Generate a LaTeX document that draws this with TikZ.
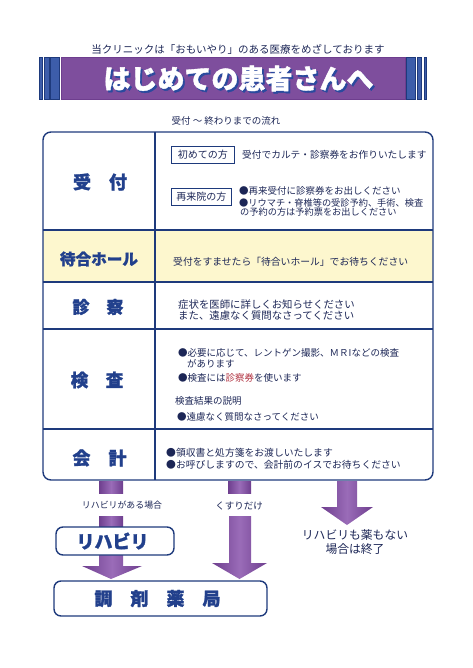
\documentclass[tikz,border=0pt]{standalone}
\usepackage{fontspec}
\setmainfont{Noto Sans CJK JP}
\newfontfamily\heavyfont[FakeBold=1.4]{Noto Sans CJK JP}
\definecolor{navy}{HTML}{1E3A7C}
\definecolor{lblue}{HTML}{22408C}
\definecolor{txt}{HTML}{1C2656}
\definecolor{purp}{HTML}{7E4E9D}
\definecolor{purpL}{HTML}{9A6CB8}
\definecolor{purpD}{HTML}{6E3E8E}
\definecolor{yel}{HTML}{FDF7CE}
\definecolor{stripeblue}{HTML}{3D5DAA}
\definecolor{shadowblue}{HTML}{2A4A9E}
\definecolor{redtxt}{HTML}{B0303F}
\tikzset{
  body/.style={font=\fontsize{9.8}{11}\selectfont, text=txt, inner sep=0pt, anchor=west},
  rowlabel/.style={font=\heavyfont\bfseries\fontsize{18}{18}\selectfont, text=lblue, inner sep=0pt},
  tagbox/.style={draw=navy, line width=0.8pt, font=\fontsize{10}{10}\selectfont, text=txt, anchor=west, inner xsep=5pt, inner ysep=0pt, minimum height=17pt},
  rbox/.style={draw=navy, line width=1.4pt, rounded corners=7pt, fill=white, inner sep=0pt},
  arrowfill/.style={left color=purpD, right color=purpD, middle color=purpL},
  stripebar/.style={fill=stripeblue, draw=navy, line width=0.5pt},
  tline/.style={draw=navy, line width=1.4pt},
}
\begin{document}
\begin{tikzpicture}[x=1pt,y=-1pt]
\useasboundingbox (0,0) rectangle (472,668);
% header
\node[font=\fontsize{10.5}{12}\selectfont, text=txt, inner sep=0pt] (sub) at (238,49) {当クリニックは「おもいやり」のある医療をめざしております};
\fill[purp, draw=purpD, line width=0.5pt] (61,57) rectangle (405,99);
\draw[stripebar] (39,57) rectangle (42.3,99);
\draw[stripebar] (44,57) rectangle (49,99);
\draw[stripebar] (50.7,57) rectangle (59.3,99);
\draw[stripebar] (406.7,57) rectangle (415,99);
\draw[stripebar] (417.3,57) rectangle (421.7,99);
\draw[stripebar] (424,57) rectangle (426.7,99);
\node[font=\heavyfont\bfseries\fontsize{27}{27}\selectfont, text=white, inner sep=0pt] (title) at (238.5,79.5) {\rlap{\hspace{1.8pt}\raisebox{-2pt}{\color{shadowblue}はじめての患者さんへ}}はじめての患者さんへ};
\node[font=\fontsize{9.5}{11}\selectfont, text=txt, inner sep=0pt] (flow) at (226,121) {受付 ～ 終わりまでの流れ};
% table
\fill[yel] (43,230) rectangle (433,282);
\draw[tline, rounded corners=8pt] (43,132) rectangle (433,480);
\draw[tline] (155,132) -- (155,480);
\draw[tline] (43,230) -- (433,230);
\draw[tline] (43,282) -- (433,282);
\draw[tline] (43,329) -- (433,329);
\draw[tline] (43,429) -- (433,429);
% row labels
\node[rowlabel] (l1) at (100,182) {受　付};
\node[rowlabel, font=\heavyfont\bfseries\fontsize{15.6}{16}\selectfont] (l2) at (99,259) {待合ホール};
\node[rowlabel, font=\heavyfont\bfseries\fontsize{17}{17}\selectfont] (l3) at (98,307) {診　察};
\node[rowlabel, font=\heavyfont\bfseries\fontsize{17.5}{17}\selectfont] (l4) at (97,380) {検　査};
\node[rowlabel] (l5) at (99.5,458) {会　計};
% row 1
\node[tagbox, minimum width=63pt] (first) at (171,155) {初めての方};
\node[body, font=\fontsize{9.7}{11}\selectfont] (t1) at (242,155) {受付でカルテ・診察券をお作りいたします};
\node[tagbox, minimum width=57pt] (again) at (171,196.5) {再来院の方};
\node[body, font=\fontsize{9.5}{11}\selectfont] (t2) at (239,191) {●再来受付に診察券をお出しください};
\node[body, font=\fontsize{9.2}{11}\selectfont] (t3) at (239,203) {●リウマチ・脊椎等の受診予約、手術、検査};
\node[body, font=\fontsize{9.2}{11}\selectfont] (t4) at (240,212) {の予約の方は予約票をお出しください};
% row 2
\node[body] (t5) at (173,262) {受付をすませたら「待合いホール」でお待ちください};
% row 3
\node[body, font=\fontsize{10.4}{11}\selectfont] (t6) at (178,305) {症状を医師に詳しくお知らせください};
\node[body, font=\fontsize{10.4}{11}\selectfont] (t7) at (178,315.5) {また、遠慮なく質問なさってください};
% row 4
\node[body, font=\fontsize{9.5}{11}\selectfont] (t8) at (178,353) {●必要に応じて、レントゲン撮影、ＭＲIなどの検査};
\node[body, font=\fontsize{9.5}{11}\selectfont] (t9) at (187,364) {があります};
\node[body, font=\fontsize{9.5}{11}\selectfont] (t10) at (178,378) {●検査には{\color{redtxt}診察券}を使います};
\node[body, font=\fontsize{9.5}{11}\selectfont] (t11) at (175,401) {検査結果の説明};
\node[body, font=\fontsize{9.5}{11}\selectfont] (t12) at (177,416.5) {●遠慮なく質問なさってください};
% row 5
\node[body] (t13) at (166,452.5) {●領収書と処方箋をお渡しいたします};
\node[body] (t14) at (166,465) {●お呼びしますので、会計前のイスでお待ちください};
% arrows
\shade[arrowfill] (99,481) rectangle (123,493);
\shade[arrowfill] (99,516) rectangle (123,528);
\shade[arrowfill] (99,553) -- (123,553) -- (123,566) -- (142,566) -- (111,579) -- (82,566) -- (99,566) -- cycle;
\shade[arrowfill] (228,481) rectangle (251,493);
\shade[arrowfill] (229,516) -- (251,516) -- (251,563) -- (267,563) -- (239.5,579) -- (212,563) -- (229,563) -- cycle;
\shade[arrowfill] (337,481) -- (357,481) -- (357,507) -- (373,507) -- (347,525) -- (321,507) -- (337,507) -- cycle;
\node[font=\fontsize{8.9}{10}\selectfont, text=txt, inner sep=0pt] (c1) at (122,505.5) {リハビリがある場合};
\node[font=\fontsize{9.5}{10}\selectfont, text=txt, inner sep=0pt] (c2) at (239,506) {くすりだけ};
\node[font=\fontsize{11.8}{13}\selectfont, text=txt, inner sep=0pt] (c3a) at (355,535.5) {リハビリも薬もない};
\node[font=\fontsize{11.8}{13}\selectfont, text=txt, inner sep=0pt] (c3b) at (355,549) {場合は終了};
% boxes
\node[rbox, minimum width=118pt, minimum height=28pt] (reha) at (115,541) {};
\node[font=\heavyfont\bfseries\fontsize{18}{18}\selectfont, text=lblue, inner sep=0pt] (rehatext) at (112.5,541) {リハビリ};
\node[rbox, minimum width=213pt, minimum height=35pt] (pharm) at (160.5,598.5) {};
\node[font=\heavyfont\bfseries\fontsize{18}{18}\selectfont, text=lblue, inner sep=0pt] (pharmtext) at (157.5,598.5) {調　剤　薬　局};
\end{tikzpicture}
\end{document}
